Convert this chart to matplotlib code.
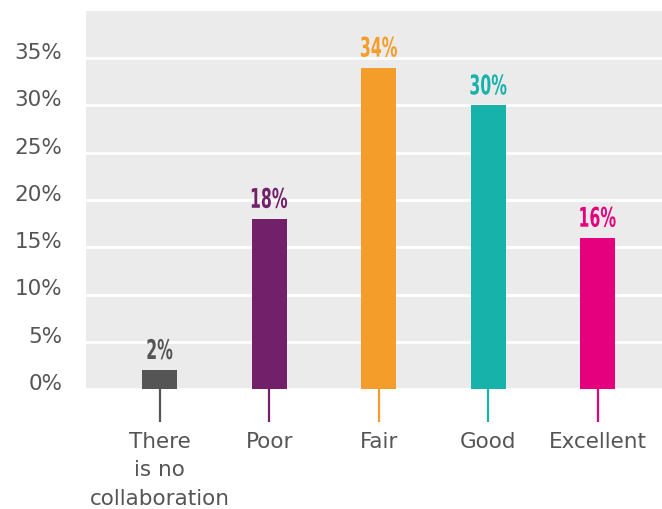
import matplotlib.pyplot as plt
from matplotlib.font_manager import FontProperties
from matplotlib.textpath import TextPath
from matplotlib.patches import PathPatch
from matplotlib.transforms import Affine2D, ScaledTranslation

# Data
categories = ["There\nis no\ncollaboration", "Poor", "Fair", "Good", "Excellent"]
values = [2, 18, 34, 30, 16]
colors = ["#555555", "#72206A", "#F59D2A", "#17B3AB", "#E5007D"]
y_ticks = [0, 5, 10, 15, 20, 25, 30, 35]

TEXT_COLOR = "#555555"
BG_COLOR = "#EBEBEB"
DPI = 100

fig = plt.figure(figsize=(6.62, 5.10), dpi=DPI)
ax = fig.add_axes([86 / 662, 120 / 510, 1 - 86 / 662, 378 / 510])
ax.set_facecolor(BG_COLOR)

x = list(range(len(categories)))
ax.bar(x, values, width=0.32, color=colors, zorder=3)

ax.set_ylim(0, 40)
ax.set_xlim(-0.675, 4.585)
ax.set_yticks(y_ticks)
ax.set_yticklabels([f"{t}%" for t in y_ticks])
ax.yaxis.grid(True, color="white", linewidth=2, zorder=1)
ax.set_axisbelow(True)

ax.set_xticks(x)
ax.set_xticklabels(categories, linespacing=1.55)
ax.tick_params(axis="x", length=24, width=1.6, pad=6, labelsize=15.5,
               labelcolor=TEXT_COLOR)
ax.tick_params(axis="y", length=0, pad=17, labelsize=15.5, labelcolor=TEXT_COLOR)
for tick, c in zip(ax.xaxis.get_major_ticks(), colors):
    tick.tick1line.set_markeredgecolor(c)
for lbl in ax.get_yticklabels():
    lbl.set_verticalalignment("baseline")

for s in ax.spines.values():
    s.set_visible(False)

# value labels: squeezed bold text to mimic a condensed display face
fp = FontProperties(family="DejaVu Sans", weight="bold")
squeeze = 0.58
for xi, v, c in zip(x, values, colors):
    tp = TextPath((0, 0), f"{v}%", size=19.5, prop=fp)
    ext = tp.get_extents()
    cx = ext.x0 + ext.width / 2
    tr = (Affine2D().translate(-cx, 0).scale(squeeze, 1).scale(DPI / 72)
          + Affine2D().translate(0, 8 * DPI / 72)
          + ScaledTranslation(xi, v, ax.transData))
    ax.add_artist(PathPatch(tp, transform=tr, facecolor=c, edgecolor="none",
                            clip_on=False, zorder=4))

fig.savefig("out.png", dpi=DPI)
